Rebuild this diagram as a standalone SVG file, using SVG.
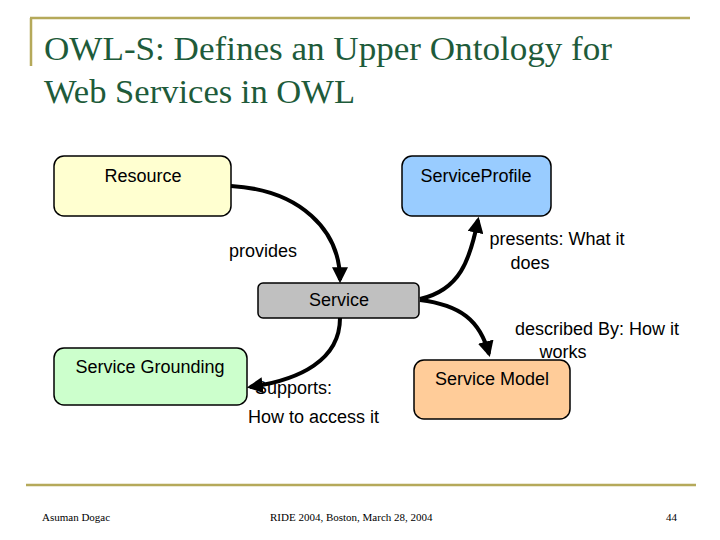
<svg xmlns="http://www.w3.org/2000/svg" width="720" height="540" viewBox="0 0 720 540">
<style>
.n{stroke:#000;stroke-width:1.5}
.t{font-family:"Liberation Sans",Arial,sans-serif;font-size:18px;fill:#000}
.e{fill:none;stroke:#000;stroke-width:4}
.f{font-family:"Liberation Serif",serif;font-size:11px;fill:#000}
</style>
<defs><marker id="a" viewBox="0 0 10 10" refX="8" refY="5" markerWidth="4" markerHeight="4" orient="auto"><path d="M0,0L10,5L0,10z" fill="#000"/></marker></defs>
<rect width="720" height="540" fill="#fff"/>
<path d="M30,18H690M31,18V66M26,485H696" stroke="#b5a95a" stroke-width="2.5" fill="none"/>
<text x="44" y="60" font-family="Liberation Serif,serif" font-size="33" fill="#1e5b3a" textLength="568" lengthAdjust="spacingAndGlyphs">OWL-S: Defines an Upper Ontology for</text>
<text x="44" y="103" font-family="Liberation Serif,serif" font-size="33" fill="#1e5b3a" textLength="311" lengthAdjust="spacingAndGlyphs">Web Services in OWL</text>
<g id="resource"><rect class="n" x="54" y="156" width="177" height="60" rx="10" fill="#ffffd0"/><text class="t" x="143" y="182" text-anchor="middle">Resource</text></g>
<g id="profile"><rect class="n" x="402" y="156" width="149" height="60" rx="10" fill="#99ccff"/><text class="t" x="476" y="182" text-anchor="middle">ServiceProfile</text></g>
<g id="service"><rect class="n" x="258" y="283" width="161" height="35" rx="5" fill="#c0c0c0"/><text class="t" x="339" y="306" text-anchor="middle">Service</text></g>
<g id="grounding"><rect class="n" x="54" y="348" width="193" height="57" rx="10" fill="#ccffcc"/><text class="t" x="150" y="373" text-anchor="middle">Service Grounding</text></g>
<g id="model"><rect class="n" x="414" y="360" width="156" height="59" rx="10" fill="#ffcc99"/><text class="t" x="492" y="385" text-anchor="middle">Service Model</text></g>
<g id="connectors">
<path class="e" marker-end="url(#a)" d="M231,186C300,190 340,230 340,280"/>
<path class="e" marker-end="url(#a)" d="M420,299C460,290 470,260 478,220"/>
<path class="e" marker-end="url(#a)" d="M420,300C460,305 480,320 489,354"/>
<path class="e" marker-end="url(#a)" d="M340,318C340,360 300,380 250,387"/>
</g>
<text class="t" x="229" y="257">provides</text>
<text class="t" x="557" y="245" text-anchor="middle">presents: What it</text>
<text class="t" x="530" y="269" text-anchor="middle">does</text>
<text class="t" x="597" y="335" text-anchor="middle">described By: How it</text>
<text class="t" x="563" y="358" text-anchor="middle">works</text>
<text class="t" x="255" y="394">Supports:</text>
<text class="t" x="248" y="423">How to access it</text>
<text class="f" x="42" y="521" font-size="12">Asuman  Dogac</text>
<text class="f" x="270" y="521" font-size="12">RIDE 2004, Boston, March 28, 2004</text>
<text class="f" x="666" y="521" font-size="12">44</text>
</svg>
